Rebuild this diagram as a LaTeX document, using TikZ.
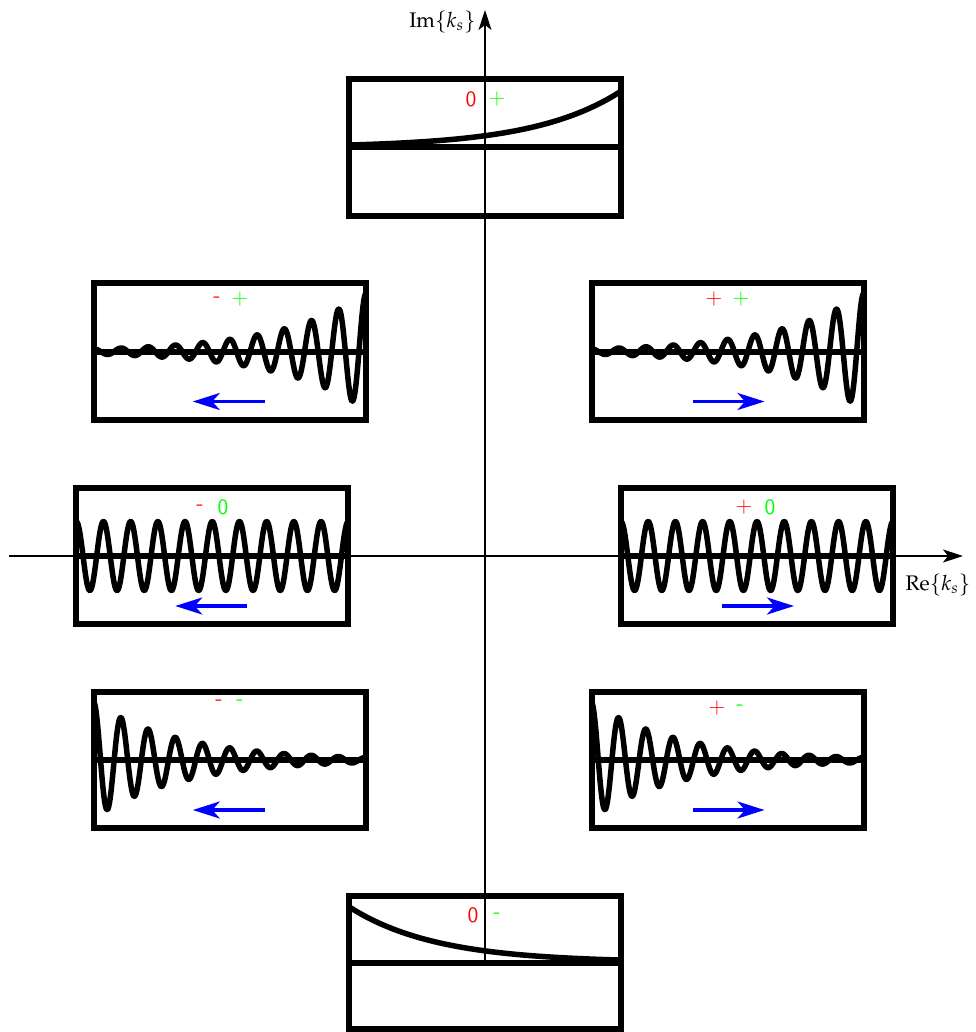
\documentclass[tikz,border=0pt]{standalone}
\usepackage{mathpazo}
\usetikzlibrary{arrows.meta}
\definecolor{signred}{RGB}{255,0,0}
\definecolor{signgreen}{RGB}{0,255,0}
\definecolor{dirblue}{RGB}{0,0,255}
\begin{document}
\begin{tikzpicture}[x=0.2mm, y=-0.2mm,
  panel/.style={draw, line width=1.2mm, minimum width=54.4mm, minimum height=27.2mm,
    inner sep=0pt, outer sep=0pt},
  midline/.style={line width=1.2mm},
  wave/.style={line width=1.1mm, line join=round},
  axisline/.style={line width=0.7pt, -{Stealth[length=4mm, width=2.6mm, inset=1mm]}},
  dirarrow/.style={dirblue, line width=0.66mm, -{Stealth[length=5.4mm, width=3.4mm, inset=1.5mm]}},
  sgn/.style={font=\fontsize{12.5}{14}\selectfont\sffamily, inner sep=0pt},
  axlabel/.style={font=\large, inner sep=0pt}]
\useasboundingbox (0,0) rectangle (975,1032);

% axes of the complex k_s plane
\coordinate (xs) at (9,556);
\coordinate (xe) at (963,556);
\coordinate (ys) at (485,963);
\coordinate (ye) at (485,10);
\draw[axisline] (xs) -- (xe);
\draw[axisline] (ys) -- (ye);
\node[axlabel, anchor=east] (imlab) at (476,22) {$\mathrm{Im}\{k_s\}$};
\node[axlabel] (relab) at (938,585) {$\mathrm{Re}\{k_s\}$};

% panels
\node[panel] (top) at (484.5,147.5) {};
\node[panel] (ul)  at (229.75,351.5) {};
\node[panel] (ur)  at (727.5,351.5) {};
\node[panel] (ml)  at (212.25,556) {};
\node[panel] (mr)  at (757,556) {};
\node[panel] (ll)  at (229.75,760) {};
\node[panel] (lr)  at (727.5,760) {};
\node[panel, minimum height=26.6mm] (bot) at (484.5,962.5) {};

% zero lines
\foreach \p in {top,ul,ur,ml,mr,ll,lr,bot}
  \draw[midline] (\p.west) -- (\p.east);

% growing exponential
\begin{scope}
  \clip (top.south west) rectangle (top.north east);
  \draw[wave, shift={(top.west)}] plot[domain=0:272, samples=120]
    (\x, {-56*exp(0.0115*(\x-272))});
\end{scope}
% decaying exponential
\begin{scope}
  \clip (bot.south west) rectangle (bot.north east);
  \draw[wave, shift={(bot.west)}] plot[domain=0:272, samples=120]
    (\x, {-56*exp(-0.0115*\x)});
\end{scope}
% growing oscillations
\foreach \p in {ul,ur}{
\begin{scope}
  \clip (\p.south west) rectangle (\p.north east);
  \draw[wave, shift={(\p.west)}] plot[domain=0:272, samples=500]
    (\x, {-58*exp(0.0115*(\x-272))*cos(13.235*(\x-272))});
\end{scope}}
% steady oscillations
\foreach \p in {ml,mr}{
\begin{scope}
  \clip (\p.south west) rectangle (\p.north east);
  \draw[wave, shift={(\p.west)}] plot[domain=0:272, samples=500]
    (\x, {-34.5*cos(13.235*\x)});
\end{scope}}
% decaying oscillations
\foreach \p in {ll,lr}{
\begin{scope}
  \clip (\p.south west) rectangle (\p.north east);
  \draw[wave, shift={(\p.west)}] plot[domain=0:272, samples=500]
    (\x, {-58*exp(-0.0115*\x)*cos(13.235*\x)});
\end{scope}}

% propagation directions
\draw[dirarrow, shift={(ul.center)}] (35,50) -- (-37,50);
\draw[dirarrow, shift={(ml.center)}] (35,50) -- (-37,50);
\draw[dirarrow, shift={(ll.center)}] (35,50) -- (-37,50);
\draw[dirarrow, shift={(ur.center)}] (-35,50) -- (37,50);
\draw[dirarrow, shift={(mr.center)}] (-35,50) -- (37,50);
\draw[dirarrow, shift={(lr.center)}] (-35,50) -- (37,50);

% signs of real and imaginary parts
\node[sgn, text=signred]   (top-r) at (471,99) {0};
\node[sgn, text=signgreen] (top-g) at (497,99) {+};
\node[sgn, text=signred]   (ul-r)  at (217,300) {-};
\node[sgn, text=signgreen] (ul-g)  at (240,299) {+};
\node[sgn, text=signred]   (ur-r)  at (714,299) {+};
\node[sgn, text=signgreen] (ur-g)  at (741,299) {+};
\node[sgn, text=signred]   (ml-r)  at (200,508) {-};
\node[sgn, text=signgreen] (ml-g)  at (223,507) {0};
\node[sgn, text=signred]   (mr-r)  at (744,507) {+};
\node[sgn, text=signgreen] (mr-g)  at (770,507) {0};
\node[sgn, text=signred]   (ll-r)  at (219,703) {-};
\node[sgn, text=signgreen] (ll-g)  at (240,703) {-};
\node[sgn, text=signred]   (lr-r)  at (717,708) {+};
\node[sgn, text=signgreen] (lr-g)  at (740,708) {-};
\node[sgn, text=signred]   (bot-r) at (473,915) {0};
\node[sgn, text=signgreen] (bot-g) at (497,916) {-};
\end{tikzpicture}
\end{document}
